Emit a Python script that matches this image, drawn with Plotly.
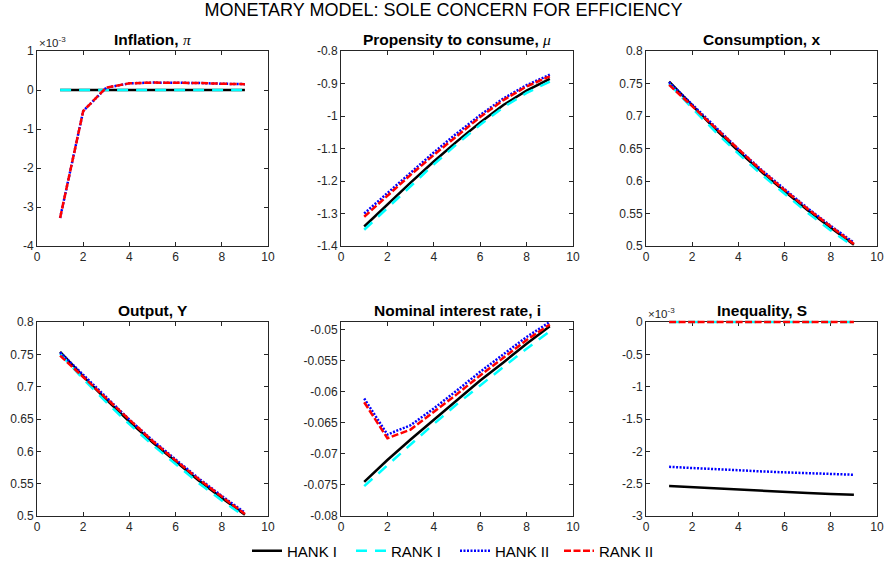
import plotly.graph_objects as go

# ---------------- data ----------------
periods = [1, 2, 3, 4, 5, 6, 7, 8, 9]
series_names = ["HANK I", "RANK I", "HANK II", "RANK II"]

# Inflation (values in units of 1e-3)
infl_hank1 = [0, 0, 0, 0, 0, 0, 0, 0, 0]
infl_rank1 = [0, 0, 0, 0, 0, 0, 0, 0, 0]
infl_hank2 = [-3.28, -0.54, 0.06, 0.17, 0.19, 0.19, 0.18, 0.16, 0.15]
infl_rank2 = [-3.28, -0.54, 0.06, 0.17, 0.19, 0.19, 0.18, 0.16, 0.15]

# Propensity to consume, mu
mu_hank1 = [-1.34, -1.272, -1.205, -1.14, -1.078, -1.02, -0.966, -0.922, -0.886]
mu_rank1 = [-1.35, -1.282, -1.214, -1.149, -1.086, -1.027, -0.973, -0.929, -0.894]
mu_hank2 = [-1.30, -1.237, -1.173, -1.112, -1.053, -0.997, -0.946, -0.905, -0.873]
mu_rank2 = [-1.31, -1.245, -1.181, -1.12, -1.06, -1.003, -0.951, -0.909, -0.878]

# Consumption, x
x_hank1 = [0.753, 0.716, 0.680, 0.646, 0.614, 0.584, 0.555, 0.528, 0.502]
x_rank1 = [0.750, 0.712, 0.676, 0.642, 0.610, 0.580, 0.551, 0.524, 0.499]
x_hank2 = [0.752, 0.718, 0.683, 0.649, 0.617, 0.587, 0.558, 0.531, 0.505]
x_rank2 = [0.748, 0.715, 0.681, 0.648, 0.616, 0.586, 0.557, 0.530, 0.503]

# Output, Y
y_hank1 = [0.754, 0.716, 0.680, 0.646, 0.614, 0.584, 0.555, 0.528, 0.502]
y_rank1 = [0.751, 0.712, 0.676, 0.642, 0.610, 0.580, 0.551, 0.524, 0.499]
y_hank2 = [0.753, 0.718, 0.683, 0.649, 0.617, 0.587, 0.558, 0.531, 0.505]
y_rank2 = [0.748, 0.715, 0.681, 0.648, 0.616, 0.586, 0.557, 0.530, 0.503]

# Nominal interest rate, i
i_hank1 = [-0.0745, -0.0710, -0.0677, -0.0645, -0.0613, -0.0582, -0.0553, -0.0523, -0.0495]
i_rank1 = [-0.0752, -0.0718, -0.0685, -0.0652, -0.0620, -0.0590, -0.0560, -0.0531, -0.0503]
i_hank2 = [-0.0611, -0.0669, -0.0654, -0.0627, -0.0598, -0.0568, -0.0540, -0.0512, -0.0488]
i_rank2 = [-0.0617, -0.0675, -0.0661, -0.0633, -0.0604, -0.0574, -0.0545, -0.0517, -0.0492]

# Inequality, S (values in units of 1e-3)
s_hank1 = [-2.535, -2.555, -2.575, -2.595, -2.615, -2.632, -2.645, -2.658, -2.67]
s_rank1 = [0, 0, 0, 0, 0, 0, 0, 0, 0]
s_hank2 = [-2.24, -2.26, -2.28, -2.295, -2.31, -2.325, -2.338, -2.35, -2.362]
s_rank2 = [0, 0, 0, 0, 0, 0, 0, 0, 0]

panel_titles = [
    "<b>Inflation, </b><span style='font-family:Liberation Serif'><i>π</i></span>",
    "<b>Propensity to consume, </b><span style='font-family:Liberation Serif'><i>μ</i></span>",
    "<b>Consumption, x</b>",
    "<b>Output, Y</b>",
    "<b>Nominal interest rate, i</b>",
    "<b>Inequality, S</b>",
]

x_ticks = [0, 2, 4, 6, 8, 10]
x_ticklabels = ["0", "2", "4", "6", "8", "10"]

infl_ticks = [-4, -3, -2, -1, 0, 1]
infl_ticklabels = ["-4", "-3", "-2", "-1", "0", "1"]
mu_ticks = [-1.4, -1.3, -1.2, -1.1, -1.0, -0.9, -0.8]
mu_ticklabels = ["-1.4", "-1.3", "-1.2", "-1.1", "-1", "-0.9", "-0.8"]
x_yticks = [0.5, 0.55, 0.6, 0.65, 0.7, 0.75, 0.8]
x_yticklabels = ["0.5", "0.55", "0.6", "0.65", "0.7", "0.75", "0.8"]
i_ticks = [-0.08, -0.075, -0.07, -0.065, -0.06, -0.055, -0.05]
i_ticklabels = ["-0.08", "-0.075", "-0.07", "-0.065", "-0.06", "-0.055", "-0.05"]
s_ticks = [-3, -2.5, -2, -1.5, -1, -0.5, 0]
s_ticklabels = ["-3", "-2.5", "-2", "-1.5", "-1", "-0.5", "0"]

panels = [
    dict(data=[infl_hank1, infl_rank1, infl_hank2, infl_rank2], yr=[-4, 1], yt=infl_ticks, ytl=infl_ticklabels, exp=True, edge=False),
    dict(data=[mu_hank1, mu_rank1, mu_hank2, mu_rank2], yr=[-1.4, -0.8], yt=mu_ticks, ytl=mu_ticklabels, exp=False, edge=False),
    dict(data=[x_hank1, x_rank1, x_hank2, x_rank2], yr=[0.5, 0.8], yt=x_yticks, ytl=x_yticklabels, exp=False, edge=False),
    dict(data=[y_hank1, y_rank1, y_hank2, y_rank2], yr=[0.5, 0.8], yt=x_yticks, ytl=x_yticklabels, exp=False, edge=False),
    dict(data=[i_hank1, i_rank1, i_hank2, i_rank2], yr=[-0.08, -0.0488], yt=i_ticks, ytl=i_ticklabels, exp=False, edge=False),
    dict(data=[s_hank1, s_rank1, s_hank2, s_rank2], yr=[-3, 0], yt=s_ticks, ytl=s_ticklabels, exp=True, edge=True),
]

# ---------------- styling ----------------
W, H = 887, 567
col_px = [(37, 268), (341, 573), (646, 877)]
row_px = [(51, 246), (322, 516)]
styles = [
    dict(color="black", width=2.5, dash="solid"),
    dict(color="#00FFFF", width=2.5, dash="11px,8px"),
    dict(color="#0000FF", width=2.5, dash="2px,1.5px"),
    dict(color="#FF0000", width=2.5, dash="7px,2.5px"),
]
FONT = "Arial, Liberation Sans, Helvetica, sans-serif"
AXC = "#262626"
PAD = 6  # px of extra drawing room for lines lying on the top axis edge

fig = go.Figure()
annotations = []
layout_axes = {}
for k, p in enumerate(panels):
    r, c = divmod(k, 3)
    x0, x1 = col_px[c][0] / W, col_px[c][1] / W
    y0, y1 = 1 - row_px[r][1] / H, 1 - row_px[r][0] / H
    n = k + 1
    xa = "x" if n == 1 else f"x{n}"
    ya = "y" if n == 1 else f"y{n}"
    lo, hi = p["yr"]
    hpx = row_px[r][1] - row_px[r][0]
    if p["edge"]:
        # separate invisible x/y pair with identical scale but a taller domain,
        # so the series lying on the top edge are not clipped in half
        ext = PAD * (hi - lo) / hpx
        layout_axes["xaxis7"] = dict(domain=[x0, x1], range=[0, 10], visible=False,
                                     anchor="y7", showgrid=False, zeroline=False,
                                     automargin=False)
        layout_axes["yaxis7"] = dict(domain=[y0, y1 + PAD / H], range=[lo, hi + ext],
                                     visible=False, anchor="x7", showgrid=False,
                                     zeroline=False, automargin=False)
    for s, (vals, st) in enumerate(zip(p["data"], styles)):
        on_edge = p["edge"] and max(vals) >= hi
        fig.add_trace(go.Scatter(
            x=periods, y=vals, mode="lines", name=series_names[s],
            line=st, xaxis="x7" if on_edge else xa, yaxis="y7" if on_edge else ya,
            showlegend=(k == 0),
        ))
    common = dict(showline=True, linecolor=AXC, linewidth=1, mirror="ticks",
                  ticks="inside", ticklen=4, tickcolor=AXC, showgrid=False,
                  zeroline=False, automargin=False,
                  tickfont=dict(family=FONT, size=12, color=AXC))
    layout_axes["xaxis" if n == 1 else f"xaxis{n}"] = dict(
        domain=[x0, x1], range=[0, 10], tickvals=x_ticks, ticktext=x_ticklabels,
        anchor=ya, **common)
    layout_axes["yaxis" if n == 1 else f"yaxis{n}"] = dict(
        domain=[y0, y1], range=[lo, hi], tickvals=p["yt"], ticktext=p["ytl"],
        anchor=xa, **common)
    annotations.append(dict(
        text=panel_titles[k], x=(x0 + x1) / 2, y=y1, xref="paper", yref="paper",
        xanchor="center", yanchor="bottom", yshift=1, showarrow=False,
        font=dict(family=FONT, size=15.5, color="black")))
    if p["exp"]:
        annotations.append(dict(
            text="×10<sup>-3</sup>", x=x0, y=y1, xref="paper", yref="paper",
            xanchor="left", yanchor="bottom", yshift=0, showarrow=False,
            font=dict(family=FONT, size=11.5, color=AXC)))

fig.update_layout(
    width=W, height=H,
    margin=dict(l=0, r=0, t=0, b=0, autoexpand=False),
    paper_bgcolor="white", plot_bgcolor="rgba(0,0,0,0)",
    title=dict(text="MONETARY MODEL: SOLE CONCERN FOR EFFICIENCY", x=0.5, xanchor="center",
               y=1 - 10 / H, yanchor="middle", font=dict(family=FONT, size=18, color="black")),
    legend=dict(orientation="h", x=455 / W, xanchor="center", y=1 - 551 / H, yanchor="middle",
                font=dict(family=FONT, size=15, color="black"), bgcolor="rgba(0,0,0,0)",
                itemwidth=30, entrywidth=59, entrywidthmode="pixels"),
    annotations=annotations,
    **layout_axes,
)

fig.write_html("out.html")
